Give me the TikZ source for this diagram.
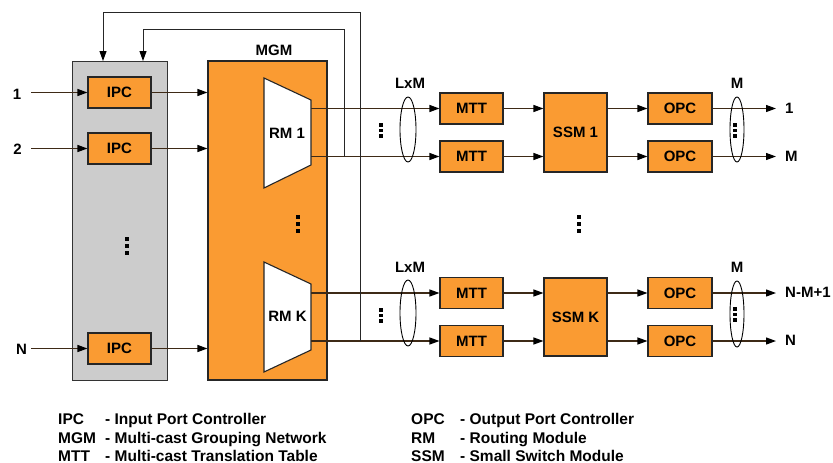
\documentclass[tikz,border=0pt]{standalone}
\usepackage{fontspec}
\setmainfont{Liberation Sans}
\usetikzlibrary{arrows.meta,shapes.geometric}
\definecolor{org}{RGB}{250,155,50}
\definecolor{gry}{RGB}{204,204,204}
\definecolor{wire}{RGB}{62,42,22}
\newcommand\mydots[4]{% x, y-center, size, gap
  \foreach \k in {-1,0,1}{\fill (#1-#3/2,#2+\k*#4-#3/2) rectangle (#1+#3/2,#2+\k*#4+#3/2);}}
\begin{document}
\begin{tikzpicture}[x=1pt,y=-1pt,
  font=\fontsize{15}{18}\selectfont\bfseries,
  box/.style={draw=black!85,line width=1.1pt,fill=org,inner sep=0pt,minimum width=63,minimum height=31},
  sig/.style={draw=wire,line width=1.2pt},
  arr/.style={sig,-{Triangle[length=10pt,width=7pt,color=black]}},
  fb/.style={draw=black!85,line width=1pt,-{Triangle[length=10pt,width=7pt,color=black]}},
  oval/.style={draw=black,line width=0.9pt,ellipse,inner sep=0pt,minimum width=16,minimum height=65},
  trap/.style={draw=black!85,line width=1.1pt,fill=white},
  lbl/.style={inner sep=0pt},
  leg/.style={inner sep=0pt,anchor=base west,font=\fontsize{15.5}{17}\selectfont\bfseries}]
\useasboundingbox (0,0) rectangle (833,463);

% input group and MGM
\node[draw=black!80,line width=1pt,fill=gry,minimum width=95,minimum height=319,inner sep=0pt] (grp) at (119.5,220.5) {};
\node[draw=black!85,line width=1.1pt,fill=org,minimum width=119,minimum height=319,inner sep=0pt] (mgm) at (267.5,220.5) {};
\node[lbl] (mgmlbl) at (274,50) {MGM};

% IPCs
\node[box] (ipc1) at (119.5,92.5) {IPC};
\node[box] (ipc2) at (119.5,148.5) {IPC};
\node[box] (ipcn) at (119.5,348.5) {IPC};
\mydots{127}{245.5}{4}{7}

% input labels and arrows
\node[lbl] (in1) at (17,94) {1};
\node[lbl] (in2) at (17.5,149) {2};
\node[lbl] (inn) at (21.5,349) {N};
\coordinate (s1) at (31,92.5);
\coordinate (s2) at (31,148.5);
\coordinate (sn) at (31,348.5);
\draw[arr] (s1) -- (ipc1.west);
\draw[arr] (s2) -- (ipc2.west);
\draw[arr] (sn) -- (ipcn.west);
\draw[arr] (ipc1.east) -- (ipc1.east -| mgm.west);
\draw[arr] (ipc2.east) -- (ipc2.east -| mgm.west);
\draw[arr] (ipcn.east) -- (ipcn.east -| mgm.west);

% routing modules
\coordinate (ra) at (264,78); \coordinate (rb) at (311,100);
\coordinate (rc) at (311,165); \coordinate (rd) at (264,188);
\draw[trap] (ra) -- (rb) -- (rc) -- (rd) -- cycle;
\node[lbl] (rm1) at (287,133) {RM 1};
\coordinate (ka) at (264,262); \coordinate (kb) at (311,284);
\coordinate (kc) at (311,350); \coordinate (kd) at (264,372);
\draw[trap] (ka) -- (kb) -- (kc) -- (kd) -- cycle;
\node[lbl] (rmk) at (287.5,316) {RM K};
\mydots{298}{224}{4}{7}

% upper row
\node[box] (m11) at (471.5,108.5) {MTT};
\node[box] (m12) at (471.5,156.5) {MTT};
\node[box,minimum height=79] (ssm1) at (575.5,132.5) {SSM 1};
\node[box,minimum width=64] (o11) at (680,108.5) {OPC};
\node[box,minimum width=64] (o12) at (680,156.5) {OPC};
\coordinate (r11) at (311,108.5);
\coordinate (r12) at (311,156.5);
\draw[arr] (r11) -- (m11.west);
\draw[arr] (r12) -- (m12.west);
\draw[arr] (m11.east) -- (m11.east -| ssm1.west);
\draw[arr] (m12.east) -- (m12.east -| ssm1.west);
\draw[arr] (o11.west -| ssm1.east) -- (o11.west);
\draw[arr] (o12.west -| ssm1.east) -- (o12.west);
\coordinate (t11) at (776,108.5);
\coordinate (t12) at (776,156.5);
\draw[arr] (o11.east) -- (t11);
\draw[arr] (o12.east) -- (t12);
\node[lbl,anchor=west] (out1) at (785,108) {1};
\node[lbl,anchor=west] (outm) at (785,156) {M};
\node[oval] (e11) at (408,129.5) {};
\node[oval,minimum width=14] (e12) at (737,129.5) {};
\node[lbl] (lxm1) at (410,83) {LxM};
\node[lbl] (m1) at (737,83) {M};
\mydots{381}{130.5}{3.5}{5.5}
\mydots{735}{130.5}{3.5}{5.5}

% lower row
\node[box] (mk1) at (471.5,293) {MTT};
\node[box] (mk2) at (471.5,341) {MTT};
\node[box,minimum height=78] (ssmk) at (575.5,317) {SSM K};
\node[box,minimum width=64] (ok1) at (680,293) {OPC};
\node[box,minimum width=64] (ok2) at (680,341) {OPC};
\coordinate (rk1) at (311,293);
\coordinate (rk2) at (311,341);
\draw[arr] (rk1) -- (mk1.west);
\draw[arr] (rk2) -- (mk2.west);
\draw[arr] (mk1.east) -- (mk1.east -| ssmk.west);
\draw[arr] (mk2.east) -- (mk2.east -| ssmk.west);
\draw[arr] (ok1.west -| ssmk.east) -- (ok1.west);
\draw[arr] (ok2.west -| ssmk.east) -- (ok2.west);
\coordinate (tk1) at (776,293);
\coordinate (tk2) at (776,341);
\draw[arr] (ok1.east) -- (tk1);
\draw[arr] (ok2.east) -- (tk2);
\node[lbl,anchor=west] (outk) at (785,292.5) {N-M+1};
\node[lbl,anchor=west] (outn) at (785,340.5) {N};
\node[oval,minimum height=66] (ek1) at (408,313) {};
\node[oval,minimum width=14,minimum height=66] (ek2) at (737,314) {};
\node[lbl] (lxmk) at (410,267) {LxM};
\node[lbl] (mk) at (737,267) {M};
\mydots{381}{315.5}{3.5}{5.5}
\mydots{735}{314.5}{3.5}{5.5}
\mydots{579}{224}{4}{7}

% feedback lines
\coordinate (j1) at (344,156.5);
\coordinate (j2) at (360,341);
\coordinate (f1) at (143,61);
\coordinate (f2) at (103,61);
\draw[fb] (j1) -- (344,29) -- (143,29) -- (f1);
\draw[fb] (j2) -- (360,12) -- (103,12) -- (f2);

% legend
\node[leg] (l1a) at (58,424) {IPC};
\node[leg] (l1b) at (105,424) {- Input Port Controller};
\node[leg] (l2a) at (58,443) {MGM};
\node[leg] (l2b) at (105,443) {- Multi-cast Grouping Network};
\node[leg] (l3a) at (58,461) {MTT};
\node[leg] (l3b) at (105,461) {- Multi-cast Translation Table};
\node[leg] (l4a) at (411,424) {OPC};
\node[leg] (l4b) at (460,424) {- Output Port Controller};
\node[leg] (l5a) at (411,443) {RM};
\node[leg] (l5b) at (460,443) {- Routing Module};
\node[leg] (l6a) at (411,461) {SSM};
\node[leg] (l6b) at (460,461) {- Small Switch Module};
\end{tikzpicture}
\end{document}
